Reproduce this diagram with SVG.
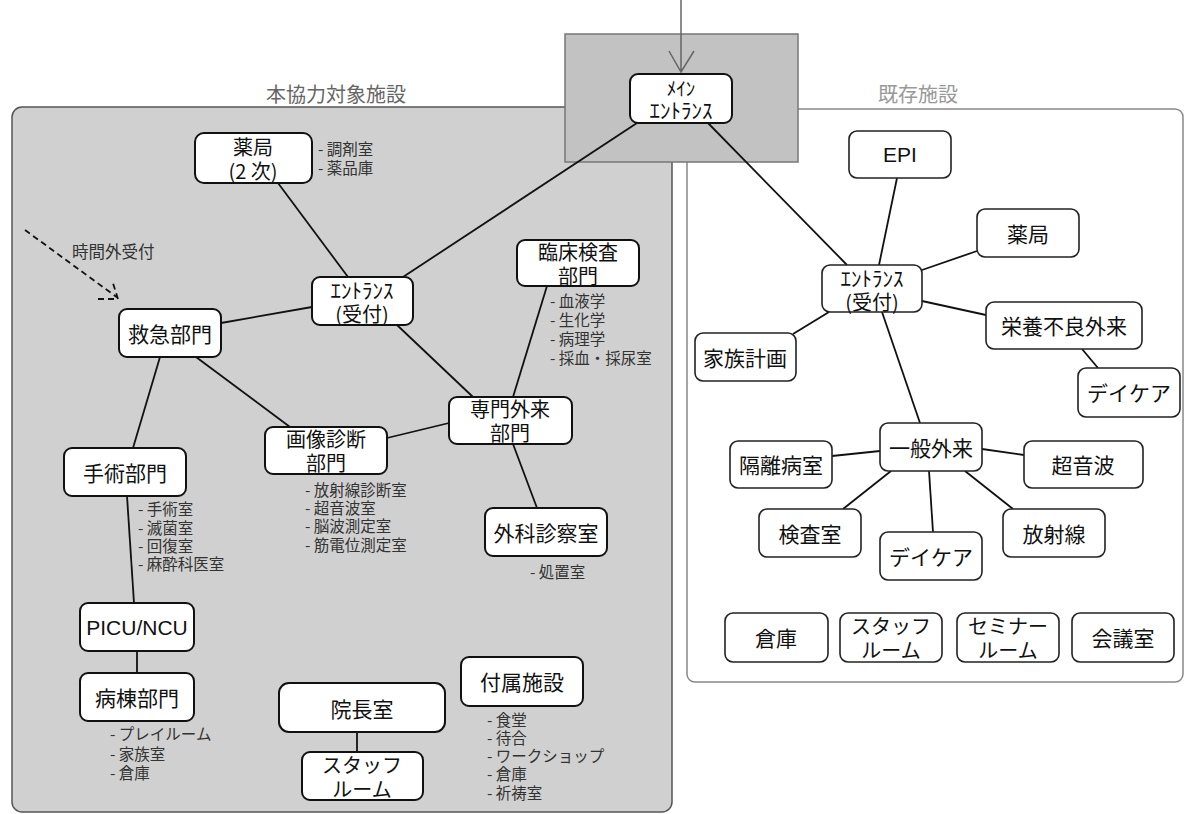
<svg xmlns="http://www.w3.org/2000/svg" width="1184" height="814" viewBox="0 0 1184 814">
<defs>
<style>
.nd{fill:#fff;stroke:#111;stroke-width:2}
.ndr{fill:#fff;stroke:#222;stroke-width:1.6}
.t{font-family:"Noto Sans CJK JP","Noto Sans",sans-serif;font-size:21px;fill:#111;text-anchor:middle;dominant-baseline:central}
.t2{font-family:"Noto Sans CJK JP","Noto Sans",sans-serif;font-size:20px;fill:#111;text-anchor:middle;dominant-baseline:central}
.tn{font-family:"Noto Sans CJK JP",sans-serif;font-size:21px;fill:#111;text-anchor:middle;dominant-baseline:central}
.tl{font-family:"Liberation Sans",Arial,sans-serif;font-size:21px;fill:#111;text-anchor:middle;dominant-baseline:central}
.li{font-family:"Noto Sans CJK JP",sans-serif;font-size:15.5px;fill:#333;dominant-baseline:central}
.e{stroke:#111;stroke-width:1.8;fill:none}
.ttl{font-family:"Noto Sans CJK JP",sans-serif;font-size:20px;text-anchor:middle;dominant-baseline:central}
</style>
</defs>
<rect width="1184" height="814" fill="#fff"/>
<rect x="12" y="107" width="660" height="705" rx="10" fill="#d0d0d0" stroke="#555" stroke-width="1.5"/>
<rect x="687" y="109" width="496" height="573" rx="8" fill="#fff" stroke="#888" stroke-width="1.5"/>
<rect x="565" y="34" width="233" height="128" fill="#c2c2c2" stroke="#777" stroke-width="1.5"/>
<text class="ttl" x="336" y="93" fill="#666">本協力対象施設</text>
<text class="ttl" x="918" y="93" fill="#999">既存施設</text>
<text class="li" x="72" y="251" style="font-size:16.5px" fill="#222">時間外受付</text>

<g id="connectors">
<path d="M681 0V72M669 51L681 72L694 51" stroke="#666" stroke-width="1.5" fill="none"/>
<path d="M25 230L118 298M98 299L118 299L112 280" stroke="#111" stroke-width="1.8" fill="none" stroke-dasharray="6,4"/>
<line class="e" x1="637" y1="123" x2="403" y2="277"/>
<line class="e" x1="708" y1="123" x2="847" y2="265"/>
<line class="e" x1="278" y1="183" x2="348" y2="277"/>
<line class="e" x1="221" y1="323" x2="312" y2="307"/>
<line class="e" x1="160" y1="357" x2="133" y2="448"/>
<line class="e" x1="196" y1="357" x2="290" y2="427"/>
<line class="e" x1="397" y1="325" x2="473" y2="397"/>
<line class="e" x1="387" y1="438" x2="449" y2="423"/>
<line class="e" x1="547" y1="286" x2="513" y2="397"/>
<line class="e" x1="513" y1="444" x2="537" y2="508"/>
<line class="e" x1="127" y1="496" x2="134" y2="603"/>
<line class="e" x1="137" y1="651" x2="137" y2="673"/>
<line class="e" x1="357" y1="732" x2="357" y2="752"/>
<line class="e" x1="897" y1="178" x2="879" y2="265"/>
<line class="e" x1="922" y1="270" x2="977" y2="251"/>
<line class="e" x1="922" y1="301" x2="986" y2="315"/>
<line class="e" x1="829" y1="312" x2="793" y2="334"/>
<line class="e" x1="882" y1="312" x2="920" y2="423"/>
<line class="e" x1="1082" y1="349" x2="1098" y2="368"/>
<line class="e" x1="880" y1="451" x2="832" y2="456"/>
<line class="e" x1="982" y1="449" x2="1024" y2="455"/>
<line class="e" x1="891" y1="471" x2="843" y2="509"/>
<line class="e" x1="929" y1="471" x2="933" y2="532"/>
<line class="e" x1="965" y1="471" x2="1013" y2="509"/>
</g>

<g id="main-entrance"><rect class="nd" x="630" y="74" width="102" height="49" rx="8"/><text class="tn" x="681" y="87" style="font-size:19px">ﾒｲﾝ</text><text class="tn" x="681" y="109">ｴﾝﾄﾗﾝｽ</text></g>

<g id="yakkyoku2"><rect class="nd" x="195" y="133" width="117" height="50" rx="9"/><text class="t2" x="253" y="146">薬局</text><text class="t2" x="253" y="170">(2 次)</text></g>
<g id="yakkyoku2-list"><text class="li" x="318" y="148">- 調剤室</text><text class="li" x="318" y="167">- 薬品庫</text></g>

<g id="entrance-left"><rect class="nd" x="312" y="277" width="101" height="48" rx="8"/><text class="tn" x="362" y="289">ｴﾝﾄﾗﾝｽ</text><text class="t2" x="362" y="313">(受付)</text></g>
<g id="kyukyu"><rect class="nd" x="119" y="309" width="102" height="48" rx="8"/><text class="t" x="170" y="333">救急部門</text></g>
<g id="shujutsu"><rect class="nd" x="64" y="448" width="122" height="48" rx="8"/><text class="t" x="125" y="472">手術部門</text></g>
<g id="shujutsu-list"><text class="li" x="138" y="508">- 手術室</text><text class="li" x="138" y="527">- 滅菌室</text><text class="li" x="138" y="545">- 回復室</text><text class="li" x="138" y="563">- 麻酔科医室</text></g>
<g id="gazou"><rect class="nd" x="265" y="427" width="122" height="47" rx="8"/><text class="t2" x="326" y="438">画像診断</text><text class="t2" x="326" y="462">部門</text></g>
<g id="gazou-list"><text class="li" x="305" y="489">- 放射線診断室</text><text class="li" x="305" y="507">- 超音波室</text><text class="li" x="305" y="525">- 脳波測定室</text><text class="li" x="305" y="544">- 筋電位測定室</text></g>
<g id="senmon"><rect class="nd" x="449" y="397" width="123" height="47" rx="8"/><text class="t2" x="510" y="408">専門外来</text><text class="t2" x="510" y="432">部門</text></g>
<g id="rinsho"><rect class="nd" x="517" y="240" width="122" height="46" rx="8"/><text class="t2" x="578" y="251">臨床検査</text><text class="t2" x="578" y="275">部門</text></g>
<g id="rinsho-list"><text class="li" x="550" y="300">- 血液学</text><text class="li" x="550" y="319">- 生化学</text><text class="li" x="550" y="338">- 病理学</text><text class="li" x="550" y="357">- 採血・採尿室</text></g>
<g id="geka"><rect class="nd" x="485" y="508" width="122" height="48" rx="8"/><text class="t" x="546" y="532">外科診察室</text></g>
<g id="geka-list"><text class="li" x="530" y="571">- 処置室</text></g>
<g id="picu"><rect class="nd" x="80" y="603" width="114" height="48" rx="8"/><text class="tl" x="137" y="627">PICU/NCU</text></g>
<g id="byoto"><rect class="nd" x="80" y="673" width="114" height="48" rx="8"/><text class="t" x="137" y="697">病棟部門</text></g>
<g id="byoto-list"><text class="li" x="110" y="733">- プレイルーム</text><text class="li" x="110" y="753">- 家族室</text><text class="li" x="110" y="772">- 倉庫</text></g>
<g id="incho"><rect class="nd" x="279" y="683" width="166" height="49" rx="10"/><text class="t" x="362" y="708">院長室</text></g>
<g id="staff-left"><rect class="nd" x="302" y="752" width="121" height="48" rx="8"/><text class="t2" x="362" y="764">スタッフ</text><text class="t2" x="362" y="788">ルーム</text></g>
<g id="fuzoku"><rect class="nd" x="461" y="657" width="122" height="49" rx="8"/><text class="t" x="522" y="681">付属施設</text></g>
<g id="fuzoku-list"><text class="li" x="487" y="719">- 食堂</text><text class="li" x="487" y="737">- 待合</text><text class="li" x="487" y="755">- ワークショップ</text><text class="li" x="487" y="773">- 倉庫</text><text class="li" x="487" y="792">- 祈祷室</text></g>

<g id="epi"><rect class="ndr" x="849" y="131" width="102" height="47" rx="8"/><text class="tl" x="900" y="154">EPI</text></g>
<g id="yakkyoku"><rect class="ndr" x="977" y="209" width="102" height="48" rx="8"/><text class="t" x="1028" y="233">薬局</text></g>
<g id="entrance-right"><rect class="ndr" x="822" y="265" width="100" height="47" rx="8"/><text class="tn" x="872" y="277">ｴﾝﾄﾗﾝｽ</text><text class="t2" x="872" y="301">(受付)</text></g>
<g id="eiyo"><rect class="ndr" x="986" y="302" width="156" height="47" rx="8"/><text class="t" x="1064" y="325">栄養不良外来</text></g>
<g id="kazoku"><rect class="ndr" x="695" y="333" width="101" height="48" rx="8"/><text class="t" x="745" y="357">家族計画</text></g>
<g id="daycare1"><rect class="ndr" x="1078" y="368" width="102" height="49" rx="8"/><text class="t" x="1129" y="392">デイケア</text></g>
<g id="ippan"><rect class="ndr" x="880" y="423" width="102" height="48" rx="8"/><text class="t" x="931" y="447">一般外来</text></g>
<g id="kakuri"><rect class="ndr" x="730" y="441" width="102" height="47" rx="8"/><text class="t" x="781" y="464">隔離病室</text></g>
<g id="choonpa"><rect class="ndr" x="1024" y="441" width="119" height="47" rx="8"/><text class="t" x="1083" y="464">超音波</text></g>
<g id="kensa"><rect class="ndr" x="759" y="509" width="102" height="48" rx="8"/><text class="t" x="810" y="533">検査室</text></g>
<g id="daycare2"><rect class="ndr" x="880" y="532" width="102" height="48" rx="8"/><text class="t" x="931" y="556">デイケア</text></g>
<g id="hosha"><rect class="ndr" x="1003" y="509" width="102" height="48" rx="8"/><text class="t" x="1054" y="533">放射線</text></g>
<g id="soko"><rect class="ndr" x="725" y="613" width="103" height="49" rx="8"/><text class="t" x="776" y="637">倉庫</text></g>
<g id="staff-right"><rect class="ndr" x="840" y="613" width="102" height="49" rx="8"/><text class="t2" x="891" y="625">スタッフ</text><text class="t2" x="891" y="649">ルーム</text></g>
<g id="seminar"><rect class="ndr" x="957" y="613" width="102" height="49" rx="8"/><text class="t2" x="1008" y="625">セミナー</text><text class="t2" x="1008" y="649">ルーム</text></g>
<g id="kaigi"><rect class="ndr" x="1072" y="613" width="102" height="49" rx="8"/><text class="t" x="1123" y="637">会議室</text></g>
</svg>
